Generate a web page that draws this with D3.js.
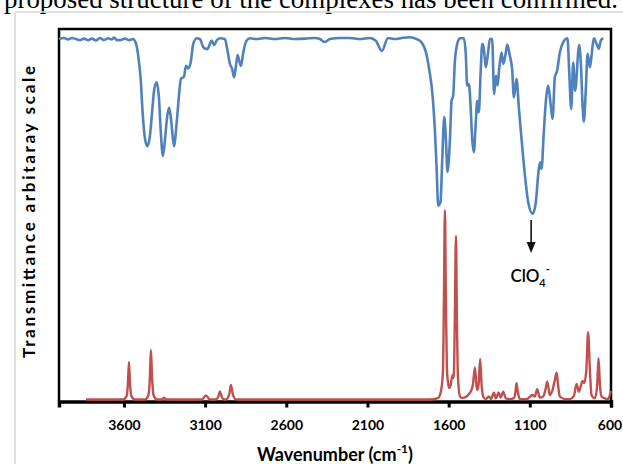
<!DOCTYPE html>
<html><head><meta charset="utf-8">
<script src="https://cdn.jsdelivr.net/npm/d3@7"></script>
<style>body{margin:0;background:#fff;} svg{display:block;}</style>
</head><body>
<svg id="c" width="623" height="464"></svg>
<script>
// ---------- data ----------
const blueWavenumber = [4000,3969,3945,3920,3895,3871,3846,3821,3797,3772,3748,3723,3698,3674,3661,3643,3624,3594,3567,3546,3528,3512,3497,3485,3470,3456,3440,3425,3413,3398,3384,3374,3360,3347,3333,3321,3306,3292,3275,3261,3249,3230,3218,3204,3189,3173,3152,3132,3111,3087,3070,3060,3044,3029,3009,2978,2964,2947,2933,2922,2910,2900,2890,2879,2865,2844,2824,2783,2731,2670,2608,2547,2485,2424,2393,2362,2331,2270,2208,2147,2085,2048,2011,1974,1931,1888,1839,1797,1767,1740,1720,1699,1685,1674,1664,1650,1640,1627,1617,1607,1592,1582,1572,1562,1547,1531,1506,1494,1486,1475,1465,1455,1445,1434,1424,1414,1403,1393,1383,1371,1358,1346,1332,1320,1309,1299,1289,1274,1264,1249,1239,1223,1209,1198,1182,1167,1151,1130,1110,1083,1063,1049,1038,1028,1014,1001,987,972,960,946,932,915,895,868,858,845,833,821,796,786,775,767,755,744,730,720,706,689,675,663,648];
const blueTransmittance = [97.3,97.6,97.2,97.6,97.3,97.0,97.4,97.0,97.4,96.9,97.6,97.0,97.5,97.2,97.7,97.0,97.0,97.4,97.0,97.3,96.4,92.8,86.6,77.6,70.4,68.5,71.3,78.5,83.9,85.7,81.2,73.1,65.9,70.4,76.7,78.8,74.0,68.5,74.9,82.1,86.6,87.2,90.1,89.4,91.0,96.0,97.5,97.3,95.1,94.6,96.0,96.9,95.7,96.9,97.5,97.3,94.6,90.6,89.2,87.0,90.1,93.0,91.5,90.1,93.7,96.9,97.5,97.3,97.6,97.3,97.6,97.3,97.4,97.6,97.3,96.5,97.3,97.6,97.6,97.3,97.6,96.8,94.1,97.6,97.3,97.6,97.8,97.3,96.4,93.8,89.2,82.1,73.1,62.4,52.5,53.5,64.2,76.3,70.4,61.6,70.4,80.7,82.1,91.1,96.0,97.5,97.5,92.8,84.8,85.2,79.4,70.4,66.9,74.0,80.7,77.6,88.4,96.0,94.6,89.7,93.3,97.3,97.3,82.5,87.4,84.8,89.2,93.7,90.6,93.3,95.8,92.8,89.2,81.6,86.6,78.5,70.4,60.6,53.4,50.3,53.4,60.6,64.2,62.4,72.2,80.7,84.8,79.8,75.8,87.0,88.8,93.7,96.4,97.5,89.2,78.5,91.0,83.4,95.7,91.0,79.4,75.1,83.9,93.3,89.7,92.8,97.5,96.0,94.7,96.9,97.5];

const redWavenumber = [3834,3606,3584,3576,3569,3562,3554,3532,3470,3449,3441,3434,3426,3418,3397,3366,3353,3341,3119,3095,3070,3033,3018,3009,2999,2984,2972,2951,2941,2930,2910,1716,1666,1648,1635,1629,1623,1617,1611,1604,1598,1589,1576,1569,1562,1555,1549,1543,1531,1518,1490,1475,1465,1451,1438,1429,1424,1416,1406,1397,1387,1371,1352,1340,1321,1309,1292,1280,1264,1248,1223,1198,1189,1182,1174,1161,1120,1083,1069,1055,1038,1018,1004,993,983,977,960,946,935,926,915,884,853,829,812,798,775,765,752,741,730,720,699,685,677,668,658,638,618,601];
const redIntensity = [0.4,0.4,1.3,4.3,10.5,4.3,1.3,0.4,0.4,1.6,5.6,13.7,5.6,1.6,0.4,0.4,0.9,0.4,0.4,1.5,0.4,0.4,1.3,2.6,1.3,0.4,0.4,1.9,4.3,1.9,0.4,0.4,0.8,2.5,8.0,28.0,51.3,28.0,9.0,5.0,3.5,4.0,7.0,6.2,22.0,44.4,22.0,7.0,1.3,0.8,1.2,1.9,2.5,4.3,9.0,4.3,3.0,4.3,11.3,4.3,1.2,0.5,1.2,0.5,2.2,0.7,2.3,0.9,2.5,0.7,0.5,0.8,2.4,4.8,2.4,0.5,0.5,1.6,1.2,3.2,0.9,1.2,3.0,5.2,3.0,1.6,3.0,5.6,7.6,4.3,1.2,0.5,0.5,1.3,4.6,2.5,5.4,4.8,8.3,18.5,8.3,1.6,0.7,4.3,11.5,4.3,1.2,0.7,0.5,2.7];

const xTicks = [3600, 3100, 2600, 2100, 1600, 1100, 600];
const annotationWavenumber = [1092];
const annotationLabel = ["ClO", "4", "-"];
const captionText = "proposed structure of the complexes has been confirmed.";
const xTitle = ["Wavenumber (cm", "-1", ")"];
const yTitle = "Transmittance arbitaray scale";

// ---------- layout ----------
const svg = d3.select("#c");
const L = 59, R = 611, T = 29, B = 401;
const x = d3.scaleLinear().domain([4000, 600]).range([L, R]);
const y = d3.scaleLinear().domain([0, 100]).range([B, T]);
const BLUE = "#4F81BD", RED = "#C0504D";
const sans = "Lato, 'Open Sans', sans-serif";

// page decoration (document snippet)
svg.append("text").attr("x", 4).attr("y", 8)
  .attr("font-family", "'Liberation Serif','Times New Roman',serif")
  .attr("font-size", 27).attr("fill", "#000")
  .attr("textLength", 614).attr("lengthAdjust", "spacingAndGlyphs")
  .text(captionText);
svg.append("line").attr("x1", 15).attr("x2", 623).attr("y1", 12).attr("y2", 12)
  .attr("stroke", "#d4d4d4").attr("stroke-width", 1.5);
svg.append("line").attr("x1", 15).attr("x2", 15).attr("y1", 12).attr("y2", 464)
  .attr("stroke", "#d4d4d4").attr("stroke-width", 1.5);

// frame
svg.append("path")
  .attr("d", `M${L},${B} L${L},${T} L${R},${T} L${R},${B}`)
  .attr("fill", "none").attr("stroke", "#000").attr("stroke-width", 2.5);

// x axis
const xAxis = d3.axisBottom(x).tickValues(xTicks).tickSize(6).tickPadding(13)
  .tickFormat(d3.format("d"));
const gx = svg.append("g").attr("transform", `translate(0,${B + 0.5})`).call(xAxis);
gx.select(".domain").attr("stroke", "#000").attr("stroke-width", 3.5);
gx.selectAll(".tick line").attr("stroke", "#000").attr("stroke-width", 3);
gx.selectAll(".tick text").attr("font-family", sans).attr("font-weight", "bold")
  .attr("font-size", 14).attr("fill", "#000")
  .attr("dx", d => d === 600 ? -1.5 : 0);

// series
const blue = blueWavenumber.map((w, i) => [w, blueTransmittance[i]]);
const red = redWavenumber.map((w, i) => [w, redIntensity[i]]);
const line = d3.line().x(d => x(d[0])).y(d => y(d[1])).curve(d3.curveMonotoneX);
svg.append("path").datum(blue).attr("d", line)
  .attr("fill", "none").attr("stroke", BLUE).attr("stroke-width", 2.6)
  .attr("stroke-linejoin", "round");
svg.append("path").datum(red).attr("d", line)
  .attr("fill", "none").attr("stroke", RED).attr("stroke-width", 2.4)
  .attr("stroke-linejoin", "round");

// annotation arrow
const ax = x(annotationWavenumber[0]);
svg.append("line").attr("x1", ax).attr("x2", ax).attr("y1", 220).attr("y2", 244)
  .attr("stroke", "#111").attr("stroke-width", 1.6);
svg.append("path").attr("d", `M${ax - 4.5},${242} L${ax + 4.5},${242} L${ax},${253} Z`)
  .attr("fill", "#111");
const lab = svg.append("text").attr("x", ax - 1).attr("y", 282).attr("text-anchor", "middle")
  .attr("font-family", sans).attr("font-weight", 600).attr("font-size", 17).attr("fill", "#000");
lab.append("tspan").text(annotationLabel[0]);
lab.append("tspan").attr("font-size", 11).attr("dy", 5).text(annotationLabel[1]);
lab.append("tspan").attr("font-size", 11).attr("dy", -14).text(annotationLabel[2]);

// axis titles
const xt = svg.append("text").attr("x", (L + R) / 2).attr("y", 461).attr("text-anchor", "middle")
  .attr("font-family", sans).attr("font-weight", "bold").attr("font-size", 18).attr("fill", "#000");
xt.append("tspan").text(xTitle[0]);
xt.append("tspan").attr("font-size", 12).attr("dy", -8).text(xTitle[1]);
xt.append("tspan").attr("dy", 8).text(xTitle[2]);

svg.append("text").attr("transform", "translate(35,212) rotate(-90)")
  .attr("text-anchor", "middle").attr("font-family", sans).attr("font-weight", "bold")
  .attr("font-size", 17).attr("fill", "#000")
  .attr("textLength", 292).attr("lengthAdjust", "spacing")
  .text(yTitle);
</script>
</body></html>
